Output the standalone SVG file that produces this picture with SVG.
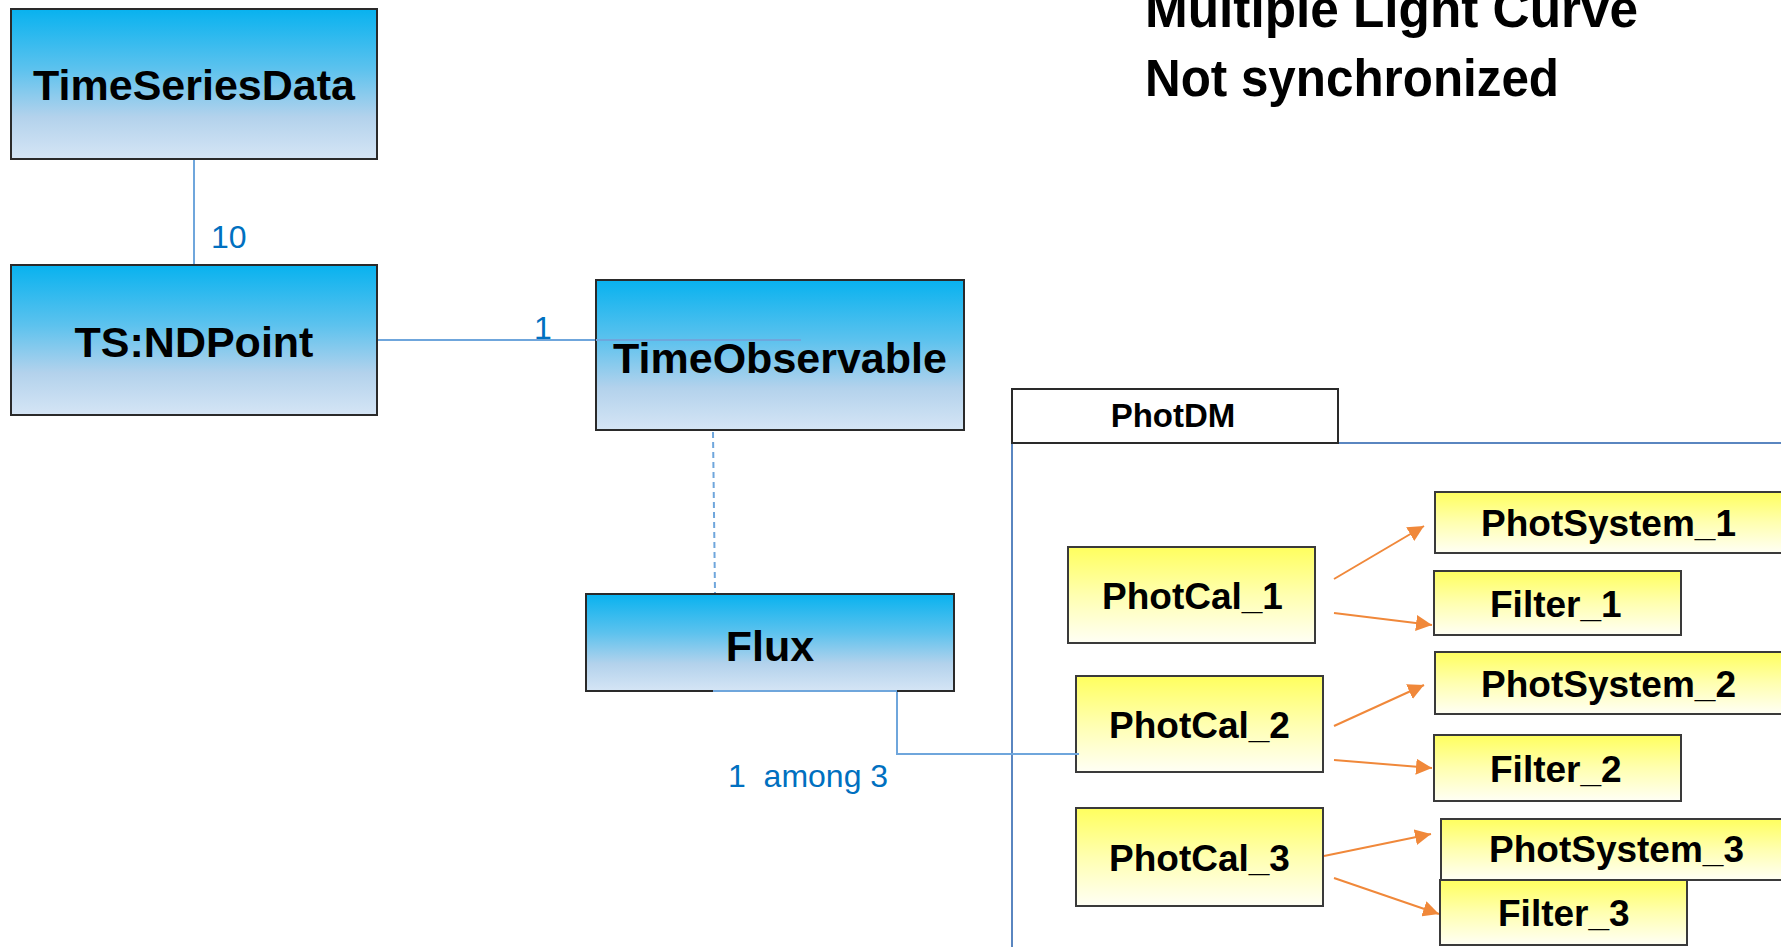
<svg xmlns="http://www.w3.org/2000/svg" width="1781" height="947" viewBox="0 0 1781 947">
<defs>
<linearGradient id="gBlue" x1="0" y1="0" x2="0" y2="1">
<stop offset="0" stop-color="#08B2EF"/>
<stop offset="0.4" stop-color="#5CC2EE"/>
<stop offset="0.72" stop-color="#B3D2EC"/>
<stop offset="1" stop-color="#D5E5F5"/>
</linearGradient>
<linearGradient id="gYel" x1="0" y1="0" x2="0" y2="1">
<stop offset="0" stop-color="#FFFF5E"/>
<stop offset="0.5" stop-color="#FFFFB0"/>
<stop offset="1" stop-color="#FFFFF5"/>
</linearGradient>
<marker id="arr" viewBox="0 0 10 10" refX="10" refY="5" markerWidth="8" markerHeight="8" markerUnits="strokeWidth" orient="auto">
<path d="M0,0 L10,5 L0,10 z" fill="#F0883A"/>
</marker>
<style>
.blue{fill:url(#gBlue);stroke:#2A2A2A;stroke-width:2}
.yel{fill:url(#gYel);stroke:#3A3A3A;stroke-width:2}
.bt{font-family:"Liberation Sans",Arial,sans-serif;font-weight:bold;font-size:43px;fill:#000;text-anchor:middle}
.yt{font-family:"Liberation Sans",Arial,sans-serif;font-weight:bold;font-size:37px;fill:#000}
.mult{font-family:"Liberation Sans",Arial,sans-serif;font-size:32px;fill:#0070C0}
.title{font-family:"Liberation Sans",Arial,sans-serif;font-weight:bold;font-size:51px;fill:#000}
.conn{fill:none;stroke:#6FA6DC;stroke-width:2}
.pkg{fill:none;stroke:#5A86C0;stroke-width:2}
.oarr{stroke:#F0883A;stroke-width:2;fill:none;marker-end:url(#arr)}
</style>
</defs>

<g id="title">
<text class="title" x="1145" y="27" textLength="493" lengthAdjust="spacingAndGlyphs">Multiple Light Curve</text>
<text class="title" x="1145" y="96" textLength="414" lengthAdjust="spacingAndGlyphs">Not synchronized</text>
</g>

<g id="PhotDM">
<rect class="pkg" x="1012" y="443" width="820" height="560"/>
<rect x="1012" y="389" width="326" height="54" fill="#fff" stroke="#2A2A2A" stroke-width="2"/>
<text x="1173" y="427" font-family="Liberation Sans, Arial, sans-serif" font-weight="bold" font-size="33" text-anchor="middle">PhotDM</text>
</g>

<g id="connectors">
<line class="conn" x1="194" y1="159" x2="194" y2="265"/>
<line class="conn" x1="377" y1="340" x2="801" y2="340"/>
<line class="conn" x1="713" y1="432" x2="715" y2="593" stroke-dasharray="6,4"/>
<polyline class="conn" points="1079,754 897,754 897,691 713,691"/>
<line class="oarr" x1="1334" y1="579" x2="1424" y2="526"/>
<line class="oarr" x1="1334" y1="613" x2="1432" y2="625"/>
<line class="oarr" x1="1334" y1="726" x2="1424" y2="685"/>
<line class="oarr" x1="1334" y1="760" x2="1432" y2="768"/>
<line class="oarr" x1="1324" y1="856" x2="1431" y2="834"/>
<line class="oarr" x1="1334" y1="878" x2="1439" y2="914"/>
</g>

<g id="labels">
<text class="mult" x="211" y="248">10</text>
<text class="mult" x="534" y="339">1</text>
<text class="mult" x="728" y="787" style="white-space:pre">1  among 3</text>
</g>

<g id="TimeSeriesData">
<rect class="blue" x="11" y="9" width="366" height="150"/>
<text class="bt" x="194" y="100">TimeSeriesData</text>
</g>

<g id="TSNDPoint">
<rect class="blue" x="11" y="265" width="366" height="150"/>
<text class="bt" x="194" y="357">TS:NDPoint</text>
</g>

<g id="TimeObservable">
<rect class="blue" x="596" y="280" width="368" height="150"/>
<line class="conn" x1="596" y1="340" x2="801" y2="340"/>
<text class="bt" x="780" y="373">TimeObservable</text>
</g>

<g id="Flux">
<rect class="blue" x="586" y="594" width="368" height="97"/>
<line class="conn" x1="713" y1="691" x2="897" y2="691"/>
<text class="bt" x="770" y="661">Flux</text>
</g>

<g id="PhotCal_1">
<rect class="yel" x="1068" y="547" width="247" height="96"/>
<text class="yt" x="1102" y="609">PhotCal_1</text>
</g>
<g id="PhotSystem_1">
<rect class="yel" x="1435" y="492" width="400" height="61"/>
<text class="yt" x="1481" y="536">PhotSystem_1</text>
</g>
<g id="Filter_1">
<rect class="yel" x="1434" y="571" width="247" height="64"/>
<text class="yt" x="1490" y="617">Filter_1</text>
</g>

<g id="PhotCal_2">
<rect class="yel" x="1076" y="676" width="247" height="96"/>
<text class="yt" x="1109" y="738">PhotCal_2</text>
</g>
<g id="PhotSystem_2">
<rect class="yel" x="1435" y="652" width="400" height="62"/>
<text class="yt" x="1481" y="697">PhotSystem_2</text>
</g>
<g id="Filter_2">
<rect class="yel" x="1434" y="735" width="247" height="66"/>
<text class="yt" x="1490" y="782">Filter_2</text>
</g>

<g id="PhotCal_3">
<rect class="yel" x="1076" y="808" width="247" height="98"/>
<text class="yt" x="1109" y="871">PhotCal_3</text>
</g>
<g id="PhotSystem_3">
<rect class="yel" x="1441" y="819" width="400" height="61"/>
<text class="yt" x="1489" y="862">PhotSystem_3</text>
</g>
<g id="Filter_3">
<rect class="yel" x="1440" y="880" width="247" height="65"/>
<text class="yt" x="1498" y="926">Filter_3</text>
</g>

<line class="conn" x1="1012" y1="754" x2="1079" y2="754"/>
</svg>
